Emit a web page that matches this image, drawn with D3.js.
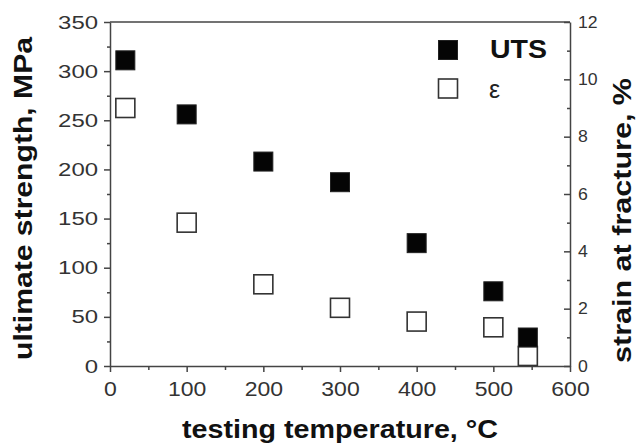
<!DOCTYPE html>
<html>
<head>
<meta charset="utf-8">
<script src="https://cdn.jsdelivr.net/npm/d3@7"></script>
<style>
    body { margin: 0; background: #fff; }
    svg { display: block; font-family: "Liberation Sans", Arial, sans-serif; }
</style>
</head>
<body>
<svg id="chart" width="637" height="445"></svg>
<script>
// data
const temperatures = [20, 100, 200, 300, 400, 500, 545];      // °C
const utsValues = [311, 256, 208, 187, 125, 76, 29];           // MPa
const strainValues = [9.0, 5.0, 2.85, 2.03, 1.55, 1.35, 0.35]; // %
const legendLabels = ['UTS', 'ε'];

const xTicks = d3.range(0, 601, 100);
const leftTicks = d3.range(0, 351, 50);
const rightTicks = d3.range(0, 13, 2);

const margin = { left: 110, right: 570, top: 22, bottom: 366 };
const markSize = 19;
const lineColor = '#444';

const svg = d3.select('#chart');

const x = d3.scaleLinear().domain([0, 600]).range([margin.left, margin.right]);
const yLeft = d3.scaleLinear().domain([0, 350]).range([margin.bottom, margin.top]);
const yRight = d3.scaleLinear().domain([0, 12]).range([margin.bottom, margin.top]);

// stretch tick text a bit, the source figure is wider than plain Arial
function widen(sel, k) {
    sel.each(function () {
        const len = this.getComputedTextLength();
        d3.select(this).attr('textLength', len * k).attr('lengthAdjust', 'spacingAndGlyphs');
    });
}

function styleAxis(g) {
    g.selectAll('path, line').attr('stroke', lineColor).attr('stroke-width', 1.5);
    g.selectAll('text').attr('fill', '#333').attr('font-family', '"Liberation Sans", Arial, sans-serif');
}

// minor ticks first
svg.append('g')
    .attr('transform', `translate(0,${margin.bottom})`)
    .call(d3.axisBottom(x).tickValues(d3.range(50, 600, 100)).tickSize(4).tickFormat(''))
    .call(g => g.select('.domain').remove())
    .call(styleAxis);

svg.append('g')
    .attr('transform', `translate(${margin.left},0)`)
    .call(d3.axisLeft(yLeft).tickValues(d3.range(25, 350, 50)).tickSize(3).tickFormat(''))
    .call(g => g.select('.domain').remove())
    .call(styleAxis);

svg.append('g')
    .attr('transform', `translate(${margin.right},0)`)
    .call(d3.axisRight(yRight).tickValues(d3.range(1, 12, 2)).tickSize(-3).tickFormat(''))
    .call(g => g.select('.domain').remove())
    .call(styleAxis);

// major axes
const xAxis = svg.append('g')
    .attr('transform', `translate(0,${margin.bottom})`)
    .call(d3.axisBottom(x).tickValues(xTicks).tickSize(6).tickSizeOuter(0).tickPadding(10))
    .call(styleAxis);
xAxis.selectAll('text').attr('font-size', 20).call(widen, 1.15);

const leftAxis = svg.append('g')
    .attr('transform', `translate(${margin.left},0)`)
    .call(d3.axisLeft(yLeft).tickValues(leftTicks).tickSize(6).tickSizeOuter(0).tickPadding(6))
    .call(styleAxis);
leftAxis.selectAll('text').attr('font-size', 19).call(widen, 1.26);

const rightAxis = svg.append('g')
    .attr('transform', `translate(${margin.right},0)`)
    .call(d3.axisRight(yRight).tickValues(rightTicks).tickSizeInner(-6).tickSizeOuter(0).tickPadding(8))
    .call(styleAxis);
rightAxis.selectAll('text').attr('font-size', 16.5).call(widen, 1.07);

// top frame line
svg.append('line')
    .attr('x1', margin.left).attr('x2', margin.right)
    .attr('y1', margin.top).attr('y2', margin.top)
    .attr('stroke', lineColor).attr('stroke-width', 1.5);

// points
const strainData = temperatures.map((t, i) => ({ t, v: strainValues[i] }));
const utsData = temperatures.map((t, i) => ({ t, v: utsValues[i] }));

svg.append('g').selectAll('rect')
    .data(strainData).enter()
    .append('rect')
    .attr('x', d => x(d.t) - markSize / 2)
    .attr('y', d => yRight(d.v) - markSize / 2)
    .attr('width', markSize).attr('height', markSize)
    .attr('fill', '#fff').attr('stroke', '#333').attr('stroke-width', 1.6);

svg.append('g').selectAll('rect')
    .data(utsData).enter()
    .append('rect')
    .attr('x', d => x(d.t) - markSize / 2)
    .attr('y', d => yLeft(d.v) - markSize / 2)
    .attr('width', markSize).attr('height', markSize)
    .attr('fill', '#050505').attr('stroke', '#222').attr('stroke-width', 1);

// legend
const legend = svg.append('g').attr('transform', 'translate(448,0)');
legend.append('rect')
    .attr('x', -markSize / 2).attr('y', 50 - markSize / 2)
    .attr('width', markSize).attr('height', markSize)
    .attr('fill', '#050505').attr('stroke', '#222');
legend.append('rect')
    .attr('x', -markSize / 2).attr('y', 88.5 - markSize / 2)
    .attr('width', markSize).attr('height', markSize)
    .attr('fill', '#fff').attr('stroke', '#333').attr('stroke-width', 1.6);
legend.append('text')
    .attr('x', 42).attr('y', 57.5)
    .attr('font-size', 25).attr('font-weight', 'bold').attr('fill', '#111')
    .attr('textLength', 57).attr('lengthAdjust', 'spacingAndGlyphs')
    .text(legendLabels[0]);
legend.append('text')
    .attr('x', 41).attr('y', 98)
    .attr('font-size', 25).attr('fill', '#222')
    .text(legendLabels[1]);

// axis titles
svg.append('text')
    .attr('transform', 'translate(32,198.5) rotate(-90)')
    .attr('text-anchor', 'middle')
    .attr('font-size', 25).attr('font-weight', 'bold').attr('fill', '#111')
    .attr('textLength', 323).attr('lengthAdjust', 'spacingAndGlyphs')
    .text('ultimate strength, MPa');

svg.append('text')
    .attr('transform', 'translate(631,220.5) rotate(-90)')
    .attr('text-anchor', 'middle')
    .attr('font-size', 25).attr('font-weight', 'bold').attr('fill', '#111')
    .attr('textLength', 285).attr('lengthAdjust', 'spacingAndGlyphs')
    .text('strain at fracture, %');

svg.append('text')
    .attr('x', 340).attr('y', 438)
    .attr('text-anchor', 'middle')
    .attr('font-size', 26).attr('font-weight', 'bold').attr('fill', '#111')
    .attr('textLength', 316).attr('lengthAdjust', 'spacingAndGlyphs')
    .text('testing temperature, °C');
</script>
</body>
</html>
